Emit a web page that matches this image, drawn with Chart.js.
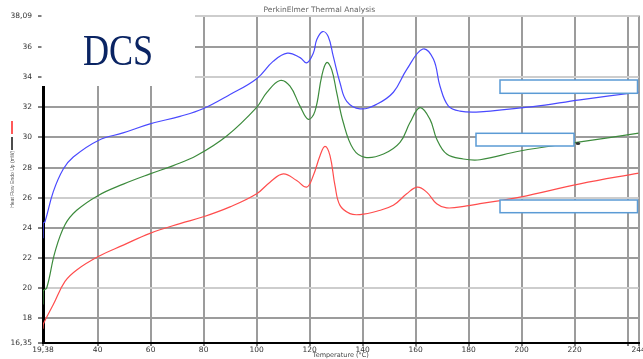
<!DOCTYPE html>
<html>
<head>
<meta charset="utf-8">
<script src="https://cdn.jsdelivr.net/npm/chart.js@4.4.1/dist/chart.umd.min.js"></script>
<style>
  html, body { margin: 0; padding: 0; background: #fff; }
  #wrap { width: 643px; height: 359px; }
</style>
</head>
<body>
<div id="wrap"><canvas id="dscChart" width="643" height="359"></canvas></div>
<script>
var tempMin = 19.38, tempMax = 244.17;
var heatMin = 16.35, heatMax = 38.09;
var tempTicks = [19.38, 40, 60, 80, 100, 120, 140, 160, 180, 200, 220, 240, 244.17];
var heatTicks = [16.35, 18, 20, 22, 24, 26, 28, 30, 32, 34, 36, 38.09];
var lightLines = [20, 26, 34, 38.09];

// blue curve
var blueTemp = [19.38, 19.45, 20.13, 23.27, 27.04, 30.81, 40.25, 49.57, 59.76, 71.08, 79.76, 89.95, 100.0, 106.2, 111.6, 116.4, 118.9, 121.4, 122.7, 124.9, 127.0, 128.9, 131.5, 134.0, 139.0, 145.3, 151.6, 156.6, 162.7, 166.7, 169.2, 172.3, 176.7, 184.3, 204.3, 222.0, 244.17];
var blueHeat = [23.3, 24.3, 24.4, 26.4, 27.9, 28.7, 29.8, 30.3, 30.9, 31.4, 31.9, 32.85, 33.9, 35.05, 35.6, 35.3, 34.95, 35.6, 36.5, 37.03, 36.7, 35.4, 33.6, 32.4, 31.9, 32.2, 33.0, 34.5, 35.87, 35.2, 33.4, 32.1, 31.75, 31.7, 32.05, 32.5, 33.0];

// green curve
var greenTemp = [19.38, 19.45, 20.78, 23.91, 27.68, 32.10, 40.25, 49.68, 59.76, 68.55, 77.38, 88.70, 100.02, 103.79, 108.81, 112.59, 116.36, 119.49, 122.02, 124.55, 126.43, 128.32, 130.21, 132.70, 136.47, 140.89, 147.87, 154.10, 157.87, 161.64, 165.42, 167.94, 171.72, 177.98, 184.28, 199.38, 220.77, 244.17];
var greenHeat = [18.9, 19.8, 20.0, 22.4, 24.2, 25.16, 26.15, 26.9, 27.58, 28.13, 28.8, 30.1, 32.0, 32.97, 33.78, 33.4, 32.08, 31.2, 31.75, 34.06, 34.98, 34.5, 32.97, 30.99, 29.23, 28.68, 28.9, 29.67, 30.99, 31.98, 31.2, 29.9, 28.9, 28.57, 28.52, 29.1, 29.67, 30.28];

// red curve
var redTemp = [19.38, 19.49, 23.27, 27.68, 32.10, 40.25, 49.68, 59.76, 71.08, 79.87, 89.95, 100.02, 105.04, 110.06, 115.11, 118.89, 121.38, 123.91, 125.79, 127.68, 129.57, 131.45, 135.23, 139.0, 145.31, 151.57, 156.62, 160.62, 164.17, 167.94, 171.72, 179.26, 184.28, 199.38, 222.02, 244.17];
var redHeat = [17.3, 17.6, 18.9, 20.44, 21.2, 22.09, 22.85, 23.63, 24.28, 24.73, 25.39, 26.26, 27.03, 27.58, 27.14, 26.7, 27.47, 28.79, 29.41, 28.79, 26.8, 25.49, 24.94, 24.88, 25.1, 25.49, 26.26, 26.7, 26.37, 25.6, 25.32, 25.45, 25.6, 26.04, 26.92, 27.63];

function toPoints(t, h) {
  return t.map(function (x, i) { return { x: x, y: h[i] }; });
}

function fmt(v) {
  if (Math.round(v) === v) return String(v);
  return v.toFixed(2).replace('.', ',');
}

function curve(data, color) {
  return {
    data: data,
    borderColor: color,
    borderWidth: 1.2,
    pointRadius: 0,
    fill: false,
    tension: 0.4
  };
}

// white box with DCS, blue label boxes, small legend marks
var overlay = {
  id: 'overlay',
  afterDraw: function (chart) {
    var c = chart.ctx;
    c.save();
    c.fillStyle = '#fff';
    c.fillRect(41.5, 0, 153.5, 86);

    c.save();
    c.fillStyle = '#0a2463';
    c.font = '44px "Liberation Serif"';
    c.translate(83, 65);
    c.scale(0.82, 1);
    c.fillText('DCS', 0, 0);
    c.restore();

    c.lineWidth = 1.5;
    c.strokeStyle = '#5b9bd5';
    c.fillStyle = '#fff';
    [[500, 80, 137.5, 13.3], [476, 133.3, 98, 12.7], [500, 200, 137.5, 12.7]].forEach(function (b) {
      c.fillRect(b[0], b[1], b[2], b[3]);
      c.strokeRect(b[0], b[1], b[2], b[3]);
    });

    c.fillStyle = '#333';
    c.beginPath();
    c.ellipse(578, 143.5, 2.2, 1.6, 0, 0, Math.PI * 2);
    c.fill();

    c.lineWidth = 1.5;
    c.strokeStyle = '#ff2020';
    c.beginPath(); c.moveTo(12, 121); c.lineTo(12, 134); c.stroke();
    c.strokeStyle = '#111';
    c.beginPath(); c.moveTo(12, 137); c.lineTo(12, 150); c.stroke();
    c.restore();
  }
};

new Chart('dscChart', {
  type: 'line',
  data: {
    datasets: [
      curve(toPoints(blueTemp, blueHeat), '#4a4aff'),
      curve(toPoints(greenTemp, greenHeat), '#3d8b3d'),
      curve(toPoints(redTemp, redHeat), '#ff4d4d')
    ]
  },
  options: {
    responsive: false,
    animation: false,
    devicePixelRatio: 1,
    layout: { padding: { left: 0, right: 4.3, top: 0, bottom: 0 } },
    plugins: {
      legend: { display: false },
      tooltip: { enabled: false },
      title: {
        display: true,
        text: 'PerkinElmer Thermal Analysis',
        color: '#666',
        font: { family: 'DejaVu Sans', size: 7.5, weight: 'normal' },
        padding: { top: 6, bottom: 0.6 }
      }
    },
    scales: {
      x: {
        type: 'linear',
        min: tempMin,
        max: tempMax,
        afterBuildTicks: function (s) {
          s.ticks = tempTicks.map(function (v) { return { value: v }; });
        },
        afterFit: function (s) {
          s.height = 16;
          s.paddingLeft = 0;
          s.paddingRight = 0;
        },
        ticks: {
          autoSkip: false,
          maxRotation: 0,
          padding: 0,
          color: '#333',
          font: { family: 'DejaVu Sans', size: 7.5 },
          callback: function (v) {
            if (v === 240) return '';
            if (v === tempMax) return '244';
            return fmt(v);
          }
        },
        grid: { color: '#9c9c9c', lineWidth: 2, tickLength: 3, tickColor: '#000', tickWidth: 1 },
        border: { color: '#000', width: 2 },
        title: {
          display: true,
          text: 'Temperature (°C)',
          color: '#444',
          font: { family: 'DejaVu Sans', size: 6.5 },
          padding: { top: 0, bottom: 0 }
        }
      },
      y: {
        min: heatMin,
        max: heatMax,
        afterBuildTicks: function (s) {
          s.ticks = heatTicks.map(function (v) { return { value: v }; });
        },
        afterFit: function (s) {
          s.width = 43;
          s.paddingTop = 0;
          s.paddingBottom = 0;
        },
        ticks: {
          padding: 6,
          color: '#333',
          font: { family: 'DejaVu Sans', size: 7.5 },
          callback: function (v) { return fmt(v); }
        },
        grid: {
          color: function (ctx) {
            if (ctx.tick && lightLines.indexOf(ctx.tick.value) >= 0) return '#cdcdcd';
            return '#9c9c9c';
          },
          lineWidth: 2,
          tickLength: 5,
          tickColor: '#000',
          tickWidth: 1
        },
        border: { color: '#000', width: 3 },
        title: {
          display: true,
          text: 'Heat Flow Endo Up (mW)',
          color: '#555',
          font: { family: 'Liberation Sans', size: 5 },
          padding: { top: 9.5, bottom: 0 }
        }
      }
    }
  },
  plugins: [overlay]
});
</script>
</body>
</html>
